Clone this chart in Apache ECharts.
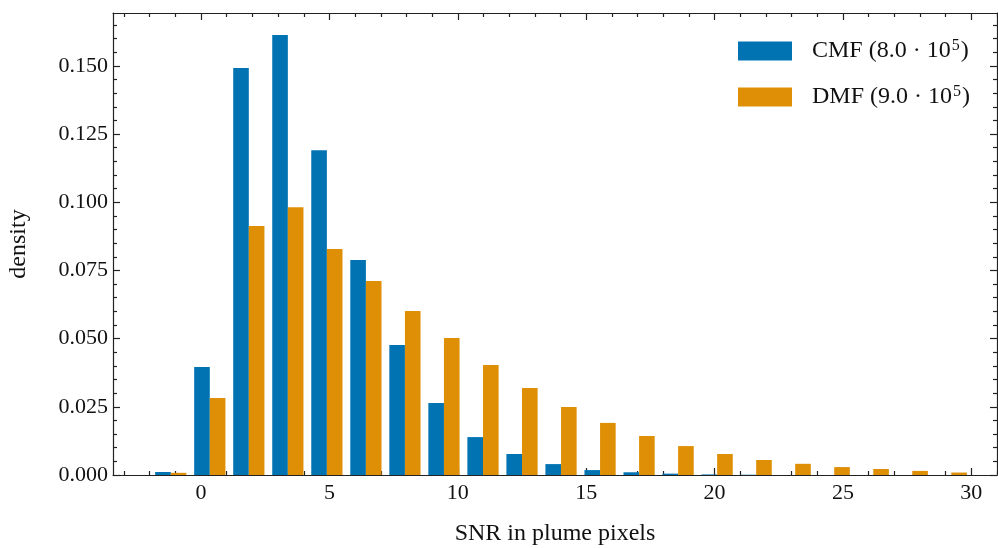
<!DOCTYPE html>
<html>
<head>
<meta charset="utf-8">
<script src="https://cdn.jsdelivr.net/npm/echarts@6/dist/echarts.min.js"></script>
<style>
html,body{margin:0;padding:0;background:#fff;}
#chart{width:998px;height:548px;}
</style>
</head>
<body>
<div id="chart"></div>
<script>
// ---- data ----
const binStart = -1.94;
const binWidth = 1.52;
const cmfName = 'CMF (8.0 · 10⁵)';
const dmfName = 'DMF (9.0 · 10⁵)';
const cmfDensity = [0.0011, 0.0396, 0.1492, 0.1613, 0.1191, 0.0788, 0.0477, 0.0264, 0.0139, 0.0077, 0.0040, 0.0018, 0.0010, 0.0005, 0.0002, 0.0001, 0, 0, 0, 0, 0];
const dmfDensity = [0.0008, 0.0282, 0.0913, 0.0982, 0.0829, 0.0711, 0.0601, 0.0502, 0.0403, 0.0319, 0.0249, 0.0191, 0.0143, 0.0106, 0.0077, 0.0055, 0.0041, 0.0029, 0.0022, 0.0015, 0.0009];
const xMajorTicks = [0, 5, 10, 15, 20, 25, 30];
const xMinorTicks = [-3, -2, -1, 1, 2, 3, 4, 6, 7, 8, 9, 11, 12, 13, 14, 16, 17, 18, 19, 21, 22, 23, 24, 26, 27, 28, 29, 31];
const yMajorTicks = [0, 0.025, 0.05, 0.075, 0.1, 0.125, 0.15];
const yMinorTicks = [0.005, 0.01, 0.015, 0.02, 0.03, 0.035, 0.04, 0.045, 0.055, 0.06, 0.065, 0.07, 0.08, 0.085, 0.09, 0.095, 0.105, 0.11, 0.115, 0.12, 0.13, 0.135, 0.14, 0.145, 0.155, 0.16, 0.165];
const xRange = [-3.43, 31.0];
const yRange = [0, 0.1694];

// ---- build ----
const colors = ['#0173B2', '#DE8F05'];
const FONT = '"Liberation Serif", "DejaVu Serif", serif';
const axisColor = '#222';

function histData(vals) {
  return vals.map((v, i) => [binStart + i * binWidth, binStart + (i + 1) * binWidth, v]);
}
function makeRender(k) {
  return function (params, api) {
    const l = api.value(0), r = api.value(1), v = api.value(2);
    const w = r - l;
    const x0 = l + 0.1 * w + k * 0.4 * w;
    const x1 = x0 + 0.4 * w;
    const p0 = api.coord([x0, v]);
    const p1 = api.coord([x1, 0]);
    return {
      type: 'rect',
      shape: { x: p0[0], y: p0[1], width: p1[0] - p0[0], height: p1[1] - p0[1] },
      style: { fill: colors[k] }
    };
  };
}
function xAx(pos, ticks, len, showLine, showLabel, extra) {
  return Object.assign({
    type: 'value', position: pos, min: xRange[0], max: xRange[1],
    axisLine: { show: showLine, onZero: false, lineStyle: { color: axisColor, width: 1.2 } },
    axisTick: { show: true, inside: true, length: len, customValues: ticks, lineStyle: { color: axisColor, width: 1.2 } },
    axisLabel: { show: showLabel, customValues: ticks, color: '#111', fontFamily: FONT, fontSize: 22, margin: 7 },
    splitLine: { show: false }
  }, extra || {});
}
function yAx(pos, ticks, len, showLine, showLabel, extra) {
  return Object.assign({
    type: 'value', position: pos, min: yRange[0], max: yRange[1],
    axisLine: { show: showLine, onZero: false, lineStyle: { color: axisColor, width: 1.2 } },
    axisTick: { show: true, inside: true, length: len, customValues: ticks, lineStyle: { color: axisColor, width: 1.2 } },
    axisLabel: { show: showLabel, customValues: ticks, color: '#111', fontFamily: FONT, fontSize: 22, margin: 5,
      formatter: v => Number(v).toFixed(3) },
    splitLine: { show: false }
  }, extra || {});
}

const chart = echarts.init(document.getElementById('chart'), null, { renderer: 'canvas' });
chart.setOption({
  animation: false,
  backgroundColor: '#fff',
  grid: { left: 113, right: 1, top: 13, bottom: 73, containLabel: false, outerBoundsMode: 'none' },
  legend: {
    orient: 'vertical', left: 738, top: 38, padding: 0,
    itemWidth: 54, itemHeight: 19, itemGap: 21,
    icon: 'rect',
    formatter: function (name) {
      const parts = name.split('⁵');
      return '{t|' + parts[0] + '}{s|5}{t|' + parts[1] + '}';
    },
    textStyle: {
      fontFamily: FONT, fontSize: 24, color: '#111', padding: [0, 0, 0, 15],
      rich: {
        t: { fontFamily: FONT, fontSize: 24, color: '#111', lineHeight: 26 },
        s: { fontFamily: FONT, fontSize: 16, color: '#111', verticalAlign: 'top', lineHeight: 26, padding: [0, 1, 8, 1] }
      }
    },
    data: [cmfName, dmfName]
  },
  xAxis: [
    xAx('bottom', xMajorTicks, 7, true, true, {
      name: 'SNR in plume pixels', nameLocation: 'middle', nameGap: 47,
      nameTextStyle: { fontFamily: FONT, fontSize: 24, color: '#111' }
    }),
    xAx('bottom', xMinorTicks, 4, false, false),
    xAx('top', xMajorTicks, 7, true, false),
    xAx('top', xMinorTicks, 4, false, false)
  ],
  yAxis: [
    yAx('left', yMajorTicks, 7, true, true, {
      name: 'density', nameLocation: 'middle', nameGap: 82,
      nameTextStyle: { fontFamily: FONT, fontSize: 24, color: '#111' }
    }),
    yAx('left', yMinorTicks, 4, false, false),
    yAx('right', yMajorTicks, 7, true, false),
    yAx('right', yMinorTicks, 4, false, false)
  ],
  series: [
    { name: cmfName, type: 'custom', xAxisIndex: 0, yAxisIndex: 0, itemStyle: { color: colors[0] },
      renderItem: makeRender(0), encode: { x: [0, 1], y: 2 }, data: histData(cmfDensity) },
    { name: dmfName, type: 'custom', xAxisIndex: 0, yAxisIndex: 0, itemStyle: { color: colors[1] },
      renderItem: makeRender(1), encode: { x: [0, 1], y: 2 }, data: histData(dmfDensity) }
  ]
});
</script>
</body>
</html>
